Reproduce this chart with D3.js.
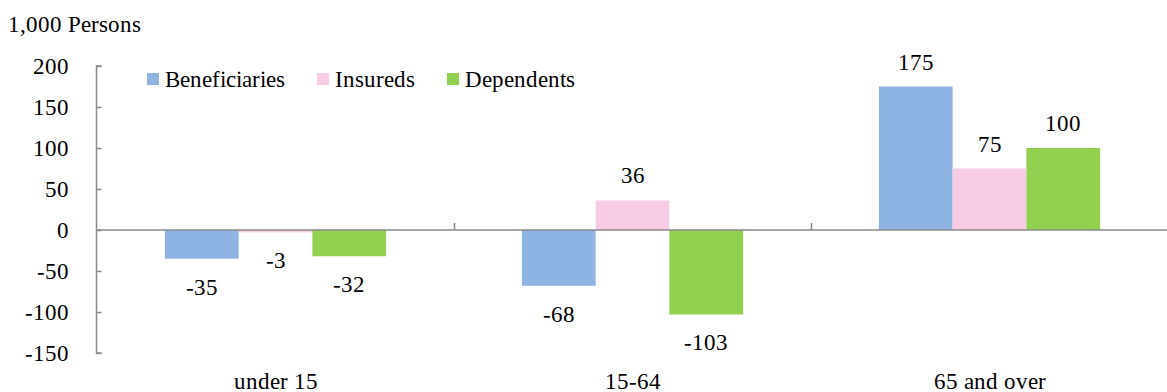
<!DOCTYPE html>
<html>
<head>
<meta charset="utf-8">
<script src="https://cdn.jsdelivr.net/npm/d3@7"></script>
<style>
  @font-face { font-family: "RefSerif"; src: local("Liberation Serif"), local("LiberationSerif-Regular"), local("Times New Roman"), local("Tinos"); }
</style>
</head>
<body style="margin:0;background:#fff">
<svg id="chart" width="1167" height="392" style="display:block"></svg>
<script>
const categories = ["under 15", "15-64", "65 and over"];
const seriesNames = ["Beneficiaries", "Insureds", "Dependents"];
const beneficiaries = [-35, -68, 175];
const insureds = [-3, 36, 75];
const dependents = [-32, -103, 100];
const yTicks = [-150, -100, -50, 0, 50, 100, 150, 200];
const colors = ["#8EB4E3", "#F9CCE6", "#92D050"];
const unitLabel = "1,000 Persons";

const seriesValues = [beneficiaries, insureds, dependents];
const fontName = ["Liberation", "Serif"].join(" ");
const FAMILY = `RefSerif, "${fontName}", "Times New Roman", Tinos, "Liberation Sans", sans-serif`;
const svg = d3.select("#chart").attr("font-family", FAMILY).style("font-family", FAMILY);
const fontSize = 23;
const fmt = d => String(d); // plain hyphen-minus as in the reference

function txt(sel) {
  return sel.attr("style", `font-family: ${FAMILY}; font-size: ${fontSize}px`)
    .attr("fill", "#000");
}

const x0 = d3.scaleBand().domain(categories).range([97, 1168]).padding(0);
const x1 = d3.scaleBand().domain(seriesNames).range([0, x0.bandwidth()])
  .paddingInner(0).paddingOuter(0.92);
const y = d3.scaleLinear().domain([-150, 200]).range([353, 66]);

const axisColor = "#8a8a8a";

// Y axis (line + inward ticks from d3.axis, labels drawn separately)
const yAxis = d3.axisLeft(y).tickValues(yTicks).tickSize(-5).tickPadding(0).tickFormat(fmt);
const gy = svg.append("g").attr("transform", "translate(96.5,0)").call(yAxis);
gy.select(".domain").attr("stroke", axisColor).attr("stroke-width", 1.5)
  .attr("d", `M5,${y(200)}H0V${y(-150)}H5`);
gy.selectAll(".tick line").attr("stroke", axisColor).attr("stroke-width", 1.5);
gy.selectAll(".tick text").remove();
gy.attr("font-family", null).attr("font-size", null);

const yLab = svg.append("g");
yTicks.forEach(v => {
  yLab.append("text").call(txt)
    .attr("x", 69).attr("y", y(v) + 7.5)
    .attr("text-anchor", "end")
    .text(fmt(v));
});

// Bars
const data = [];
categories.forEach((c, i) => {
  seriesNames.forEach((s, j) => {
    data.push({ cat: c, series: s, value: seriesValues[j][i], color: colors[j] });
  });
});

svg.append("g").selectAll("rect").data(data).join("rect")
  .attr("x", d => x0(d.cat) + x1(d.series))
  .attr("width", x1.bandwidth())
  .attr("y", d => y(Math.max(0, d.value)))
  .attr("height", d => Math.abs(y(d.value) - y(0)))
  .attr("fill", d => d.color);

// Zero line
svg.append("line")
  .attr("x1", 96.5).attr("x2", 1168).attr("y1", y(0)).attr("y2", y(0))
  .attr("stroke", axisColor).attr("stroke-width", 1.5);

// Category ticks (at band boundaries)
const boundaries = categories.slice(1).map(c => x0(c));
svg.append("g").selectAll("line").data(boundaries).join("line")
  .attr("x1", d => d + 0.5).attr("x2", d => d + 0.5)
  .attr("y1", y(0)).attr("y2", y(0) - 7)
  .attr("stroke", axisColor).attr("stroke-width", 1.5);

// Value labels
svg.append("g").selectAll("text").data(data).join("text")
  .call(txt)
  .attr("x", d => x0(d.cat) + x1(d.series) + x1.bandwidth() / 2)
  .attr("y", d => d.value >= 0 ? y(d.value) - 17 : y(d.value) + 36)
  .attr("text-anchor", "middle")
  .text(d => fmt(d.value));

// Category labels
svg.append("g").selectAll("text").data(categories).join("text")
  .call(txt)
  .attr("x", d => x0(d) + x0.bandwidth() / 2)
  .attr("y", 389)
  .attr("text-anchor", "middle")
  .text(d => d);

// Unit label
svg.append("text").call(txt)
  .attr("x", 8).attr("y", 32).text(unitLabel);

// Legend
const legend = svg.append("g");
let lx = 147;
seriesNames.forEach((s, j) => {
  legend.append("rect").attr("x", lx).attr("y", 73).attr("width", 12).attr("height", 12).attr("fill", colors[j]);
  const t = legend.append("text").call(txt)
    .attr("x", lx + 18).attr("y", 86.5).text(s);
  lx = lx + 18 + t.node().getComputedTextLength() + 32;
});
</script>
</body>
</html>
